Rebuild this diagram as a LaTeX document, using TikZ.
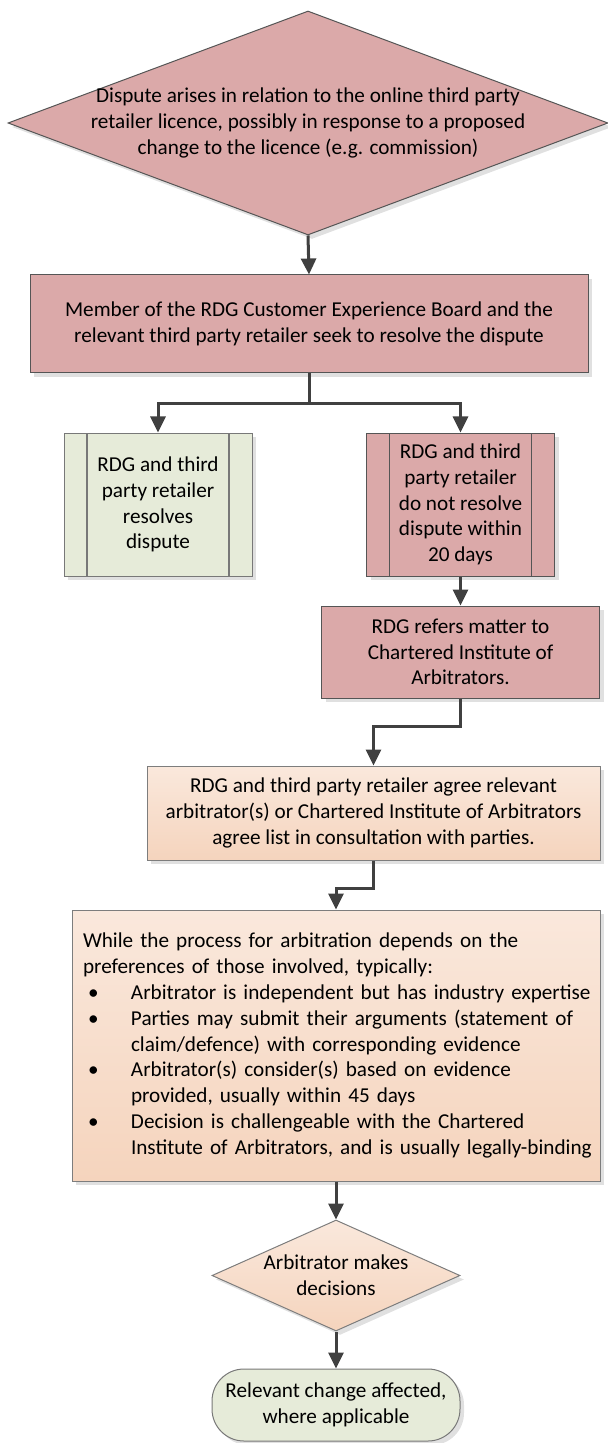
\documentclass[tikz,border=0pt]{standalone}
\usepackage{fontspec}
\setmainfont{Carlito}
\usetikzlibrary{shapes.geometric,arrows.meta,shadows}
\definecolor{pinkfill}{RGB}{219,169,169}
\definecolor{pinkline}{RGB}{85,85,85}
\definecolor{greenfill}{RGB}{230,235,217}
\definecolor{greenline}{RGB}{120,120,120}
\definecolor{peachtop}{RGB}{250,232,220}
\definecolor{peachbottom}{RGB}{245,212,189}
\definecolor{peachline}{RGB}{125,125,125}
\definecolor{arrowgray}{RGB}{64,64,64}
\newcommand{\arbbullet}{\makebox[24pt][l]{\hspace{2.5pt}\textbullet}}
\newcommand{\arbindent}{\hspace*{24pt}}
\begin{document}
\begin{tikzpicture}[x=0.5pt,y=-0.5pt,
	softshadow/.style={drop shadow={shadow xshift=2pt,shadow yshift=-2pt,fill=black,opacity=0.12}},
	pinkbox/.style={rectangle,draw=pinkline,fill=pinkfill,softshadow},
	peachbox/.style={rectangle,draw=peachline,top color=peachtop,bottom color=peachbottom,softshadow},
	sidebars/.style={path picture={\draw[draw=#1,line width=0.6pt]
		([xshift=11.5pt]path picture bounding box.north west) -- ([xshift=11.5pt]path picture bounding box.south west)
		([xshift=-11.5pt]path picture bounding box.north east) -- ([xshift=-11.5pt]path picture bounding box.south east);}},
	split/.style={to path={-- ++(0,30) -| (\tikztotarget)}},
	elbow/.style={to path={-- ++(0,28) -| (\tikztotarget)}}]
	\useasboundingbox (0,0) rectangle (608,1443);
	          \begin{scope}[every node/.style={font=\fontsize{10.6}{12.9}\selectfont,align=center,line width=0.5pt}]
	            \node[diamond,draw=pinkline,fill=pinkfill,softshadow,aspect=2.68,inner xsep=-30pt,inner ysep=-5pt,
	              minimum width=300pt,minimum height=112pt] (dispute) at (308,123)
	              {Dispute arises in relation to the online third party\\
	               retailer licence, possibly in response to a proposed\\
	               change to the licence (e.g. commission)};
	            \node[pinkbox,minimum width=279pt,minimum height=49pt] (member) at (309,324)
	              {Member of the RDG Customer Experience Board and the\\
	               relevant third party retailer seek to resolve the dispute};
	            \node[rectangle,draw=greenline,fill=greenfill,softshadow,sidebars=greenline,
	              minimum width=94pt,minimum height=71.5pt] (resolved) at (158,504.5)
	              {RDG and third\\ party retailer\\ resolves\\ dispute};
	            \node[pinkbox,sidebars=pinkline,minimum width=94pt,minimum height=71.5pt] (unresolved) at (460.5,504.5)
	              {RDG and third\\ party retailer\\ do not resolve\\ dispute within\\ 20 days};
	            \node[pinkbox,minimum width=139pt,minimum height=46pt] (refer) at (460.5,652)
	              {RDG refers matter to\\ Chartered Institute of\\ Arbitrators.};
	            \node[peachbox,minimum width=226.5pt,minimum height=47pt] (agree) at (373.5,813)
	              {RDG and third party retailer agree relevant\\
	               arbitrator(s) or Chartered Institute of Arbitrators\\
	               agree list in consultation with parties.};
	            \node[peachbox,align=left,text width=253pt,inner xsep=5.5pt,minimum height=135.5pt] (process) at (336,1045.5)
	              {\mbox{While the process for arbitration depends on the}\\%
	               \mbox{preferences of those involved, typically:}\\%
	               \mbox{\arbbullet Arbitrator is independent but has industry expertise}\\%
	               \mbox{\arbbullet Parties may submit their arguments (statement of}\\%
	               \mbox{\arbindent claim/defence) with corresponding evidence}\\%
	               \mbox{\arbbullet Arbitrator(s) consider(s) based on evidence}\\%
	               \mbox{\arbindent provided, usually within 45 days}\\%
	               \mbox{\arbbullet Decision is challengeable with the Chartered}\\%
	               \mbox{\arbindent Institute of Arbitrators, and is usually legally-binding}};
	            \node[diamond,draw=peachline,top color=peachtop,bottom color=peachbottom,softshadow,aspect=2.23,
	              inner xsep=-5pt,inner ysep=0pt,minimum width=124pt,minimum height=55.5pt] (decide) at (336,1275.5)
	              {Arbitrator makes\\ decisions};
	            \node[rectangle,rounded corners=16pt,draw=greenline,fill=greenfill,softshadow,
	              minimum width=124pt,minimum height=36pt] (change) at (336,1405)
	              {Relevant change affected,\\ where applicable};
	          \end{scope}
	          \begin{scope}[every edge/.style={draw=arrowgray,line width=1.5pt,-{Triangle[length=8pt,width=7.5pt]}}]
	            \path (dispute.south) edge (member.north);
	            \path (member.south) edge[split] (resolved.north);
	            \path (member.south) edge[split] (unresolved.north);
	            \path (unresolved.south) edge (refer.north);
	            \path (refer.south) edge[elbow] (agree.north);
	            \path (agree.south) edge[elbow] (process.north);
	            \path (process.south) edge (decide.north);
	            \path (decide.south) edge (change.north);
	          \end{scope}
	        \end{tikzpicture}
\end{document}
